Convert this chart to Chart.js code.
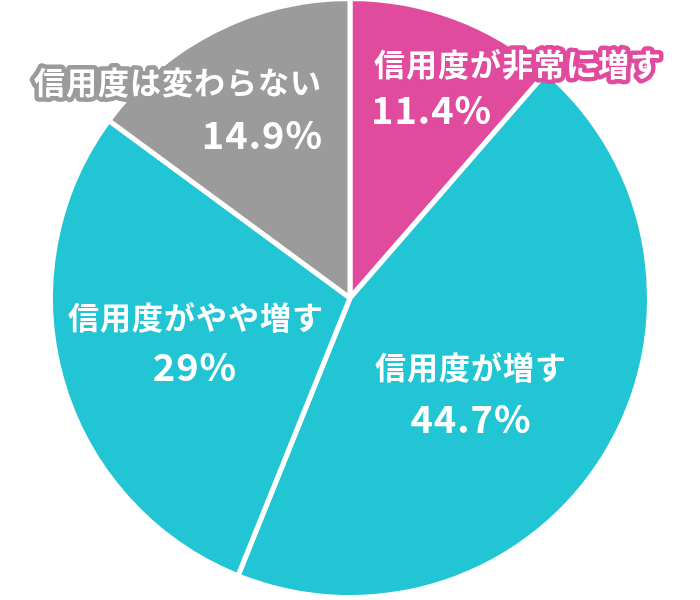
<!DOCTYPE html>
<html>
<head>
<meta charset="utf-8">
<script src="https://cdn.jsdelivr.net/npm/chart.js@4.4.1/dist/chart.umd.min.js"></script>
<style>
  html, body { margin: 0; padding: 0; background: #fff; overflow: hidden; }
  #wrap { width: 700px; height: 604px; margin-top: -4px; position: relative; }
</style>
</head>
<body>
<div id="wrap"><canvas id="pieChart"></canvas></div>
<script>
// Chart data
const categories = ['信用度が非常に増す', '信用度が増す', '信用度がやや増す', '信用度は変わらない'];
const shares = [11.4, 44.7, 29, 14.9];
const shareLabels = ['11.4%', '44.7%', '29%', '14.9%'];
const sliceColors = ['#e04b9e', '#22c5d4', '#22c5d4', '#9b9b9b'];

// where each label sits, relative to the pie centre
const labelPlaces = [
    { name: [168, -234, 'center'], pct: [21, -188, 'left'] },
    { name: [121, 69, 'center'], pct: [121, 121, 'center'] },
    { name: [-154, 19, 'center'], pct: [-155, 69, 'center'] },
    { name: [-172, -216, 'center'], pct: [-27, -163, 'right'] }
];

const FONT = '"Noto Sans CJK JP", "Noto Sans", sans-serif';

// draws the outlined white labels on top of the slices
const sliceLabels = {
    id: 'sliceLabels',
    afterDatasetsDraw(chart) {
        const ctx = chart.ctx;
        const meta = chart.getDatasetMeta(0);
        meta.data.forEach((arc, i) => {
            const place = labelPlaces[i];
            const cx = arc.x, cy = arc.y;
            const draw = (text, spot, size) => {
                ctx.save();
                ctx.font = `bold ${size}px ${FONT}`;
                ctx.letterSpacing = '1px';
                ctx.textAlign = spot[2];
                ctx.textBaseline = 'middle';
                ctx.lineJoin = 'round';
                ctx.lineWidth = 9;
                ctx.strokeStyle = sliceColors[i];
                ctx.strokeText(text, cx + spot[0], cy + spot[1]);
                ctx.fillStyle = '#fff';
                ctx.fillText(text, cx + spot[0], cy + spot[1]);
                ctx.restore();
            };
            draw(categories[i], place.name, 31);
            draw(shareLabels[i], place.pct, 38);
        });
    }
};

new Chart(document.getElementById('pieChart'), {
    type: 'pie',
    data: {
        labels: categories,
        datasets: [{
            data: shares,
            backgroundColor: sliceColors,
            borderColor: '#fff',
            borderWidth: 5
        }]
    },
    options: {
        responsive: true,
        maintainAspectRatio: false,
        animation: false,
        plugins: {
            legend: { display: false },
            tooltip: { enabled: false }
        }
    },
    plugins: [sliceLabels]
});
</script>
</body>
</html>
